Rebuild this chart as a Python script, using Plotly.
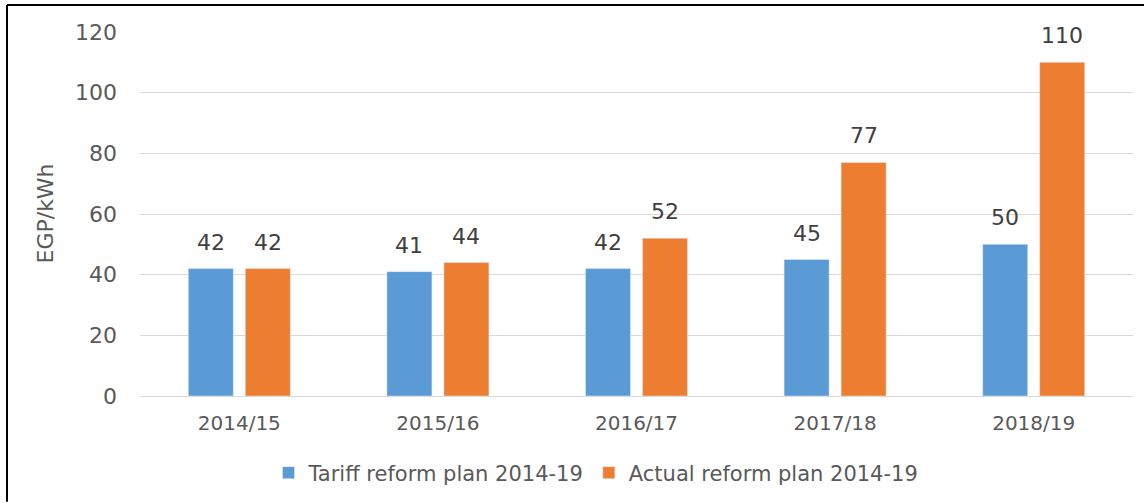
import plotly.graph_objects as go

categories = ["2014/15", "2015/16", "2016/17", "2017/18", "2018/19"]
tariff_plan = [42, 41, 42, 45, 50]
actual_plan = [42, 44, 52, 77, 110]
series_names = ["Tariff reform plan 2014-19", "Actual reform plan 2014-19"]
y_ticks = [0, 20, 40, 60, 80, 100, 120]

W, H = 1144, 503
L, R, T, B = 140, 11, 32, 106
pw, ph = W - L - R, H - T - B

def px_x(p):
    return (p - L) / pw

def px_y(p):
    return (H - B - p) / ph

FONT = "DejaVu Sans, Liberation Sans, Arial, sans-serif"
BARGAP = 0.426
GROUPGAP = 0.21
slot = (1 - BARGAP) / 2  # category fraction per trace

fig = go.Figure()
fig.add_trace(go.Bar(x=categories, y=tariff_plan, name=series_names[0],
                     marker_color="#5B9BD5"))
fig.add_trace(go.Bar(x=categories, y=actual_plan, name=series_names[1],
                     marker_color="#ED7D31"))

# value labels above bars
for vals, sign in ((tariff_plan, -1), (actual_plan, 1)):
    for i, v in enumerate(vals):
        fig.add_annotation(x=i + sign * slot / 2, y=v, xref="x", yref="y",
                           text=str(v), showarrow=False, yanchor="bottom", xanchor="center",
                           yshift=12, font=dict(size=22, color="#404040", family=FONT))

fig.update_layout(
    width=W, height=H,
    margin=dict(l=L, r=R, t=T, b=B),
    paper_bgcolor="white", plot_bgcolor="white",
    barmode="group", bargap=BARGAP, bargroupgap=GROUPGAP,
    font=dict(family=FONT, color="#595959"),
    legend=dict(orientation="h", x=px_x(596), xanchor="center", y=px_y(473), yanchor="middle",
                font=dict(size=21, color="#595959"), itemwidth=30, traceorder="normal"),
    showlegend=True,
)
fig.update_xaxes(showgrid=False, showline=True, linecolor="#D9D9D9", linewidth=1,
                 tickfont=dict(size=20, color="#595959"), ticks="", ticklabelstandoff=9)
fig.update_yaxes(range=[0, 120], tickvals=y_ticks, showgrid=True, gridcolor="#D9D9D9",
                 gridwidth=1, zeroline=False, showline=False,
                 tickfont=dict(size=22, color="#595959"), ticks="", ticklabelstandoff=22)

fig.add_annotation(text="EGP/kWh", textangle=-90, x=px_x(46), y=px_y(214),
                   xref="paper", yref="paper", showarrow=False,
                   xanchor="center", yanchor="middle",
                   font=dict(size=22, color="#595959", family=FONT))

# chart frame edges (top and left visible)
fig.add_shape(type="line", xref="paper", yref="paper",
              x0=px_x(7), x1=px_x(1144), y0=px_y(5), y1=px_y(5),
              line=dict(color="black", width=2))
fig.add_shape(type="line", xref="paper", yref="paper",
              x0=px_x(7), x1=px_x(7), y0=px_y(5), y1=px_y(503),
              line=dict(color="black", width=2))

fig.write_html("out.html")
